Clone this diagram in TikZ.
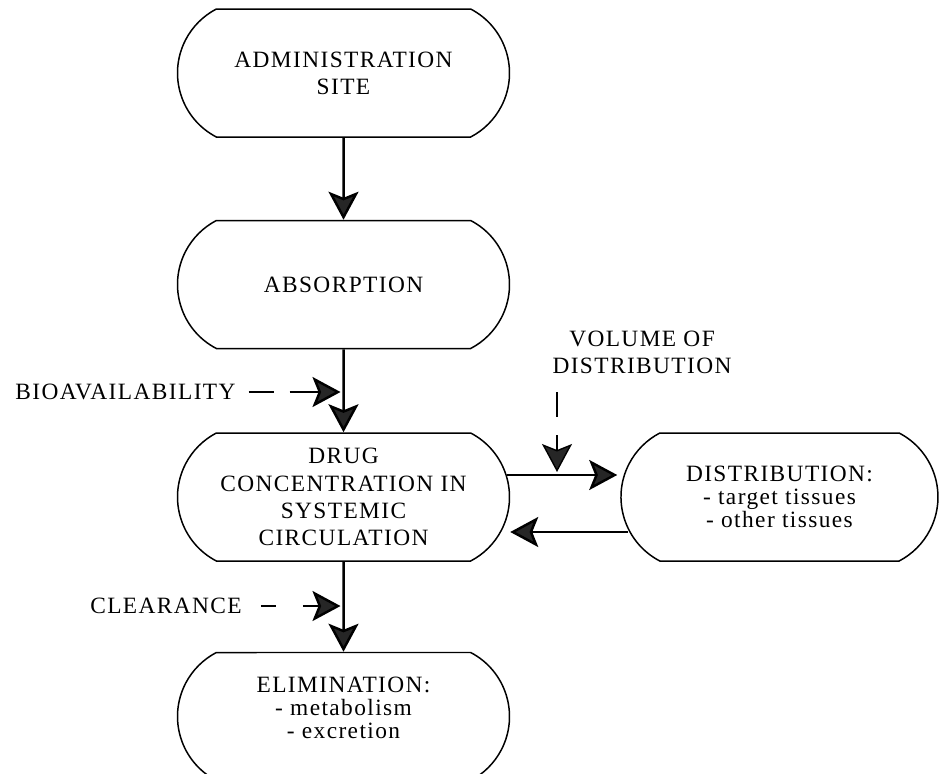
\documentclass[tikz,border=0pt]{standalone}
\usepackage{fontspec}
\setmainfont{Liberation Serif}[LetterSpace=6]
\usetikzlibrary{positioning,arrows.meta,shapes.misc,calc}

\begin{document}
\begin{tikzpicture}[node distance=1.64cm,font=\fontsize{13.3}{15.5}\selectfont]
  \tikzstyle{pill}=[draw,line width=0.85pt,rounded rectangle,rounded rectangle arc length=125,minimum width=6.78cm,minimum height=2.56cm,align=center,inner sep=2pt]
  \tikzstyle{tight}=[font=\fontsize{13.3}{13}\selectfont]
  \tikzstyle{flow}=[line width=1.4pt,-{Stealth[length=0.56cm,width=0.6cm,inset=0.12cm,fill=black!85]}]
  \tikzstyle{hint}=[flow,shorten >=0.06cm]
  \useasboundingbox (0,0) rectangle (18.86,-15.46);
  \node[pill] (admin) at (6.87,-1.46) {ADMINISTRATION\\SITE};
  \node[pill,below=of admin] (absorb) {ABSORPTION};
  \node[pill,below=1.66cm of absorb] (drug) {DRUG\\CONCENTRATION IN\\SYSTEMIC\\CIRCULATION};
  \node[pill,tight,text depth=0.36cm,below=1.8cm of drug] (elim) {ELIMINATION:\\- metabolism\\- excretion};
  \node[pill,tight,minimum width=6.48cm,right=2.2cm of drug] (dist) {DISTRIBUTION:\\- target tissues\\- other tissues};
  \node (bio) at (2.51,-7.84) {BIOAVAILABILITY};
  \node (clear) at (3.32,-12.12) {CLEARANCE};
  \node[align=center] (vol) at (12.84,-7.04) {VOLUME OF\\DISTRIBUTION};
  \coordinate (volin) at (11.14,-7.84);
  \coordinate (dout) at ([yshift=0.44cm]drug.east);
  \coordinate (din) at ([yshift=-0.7cm]drug.east);
  \draw[flow] (admin) -- (absorb);
  \draw[flow] (absorb) -- (drug);
  \draw[flow] (drug) -- (elim);
  \draw[flow,shorten >=0.06cm] ([xshift=-0.07cm]dout) -- (dout -| dist.west);
  \draw[flow] ($(din -| dist.west)+(0.16,0)$) -- (din);
  \draw[hint,dash pattern=on 0.5cm off 0.32cm on 3cm] ([xshift=0.14cm]bio.east) -- (bio.east -| absorb.south);
  \draw[hint,dash pattern=on 0.3cm off 0.54cm on 3cm] ([xshift=0.26cm]clear.east) -- (clear.east -| drug.south);
  \draw[hint,line width=0.8pt,dash pattern=on 0.5cm off 0.36cm on 3cm] (volin) -- (volin |- dout);
\end{tikzpicture}
\end{document}
